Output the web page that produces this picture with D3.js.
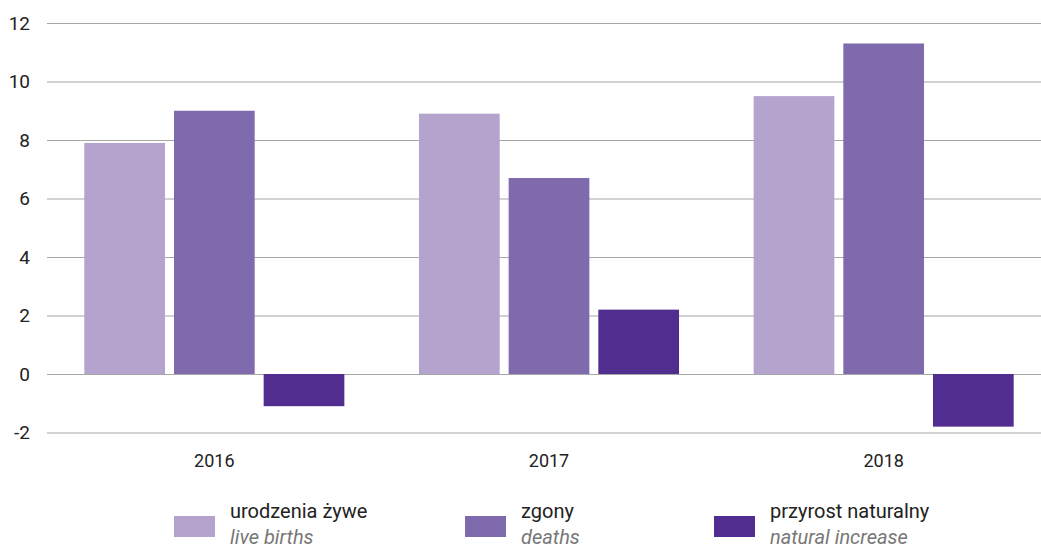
<!DOCTYPE html>
<html>
<head>
<meta charset="utf-8">
<script src="https://cdn.jsdelivr.net/npm/d3@7"></script>
<style>
  body { margin: 0; background: #fff; }
  text { font-family: "Roboto", sans-serif; fill: #222; }
</style>
</head>
<body>
<script>
const years = ['2016', '2017', '2018'];
const seriesKeys = ['births', 'deaths', 'increase'];
const seriesPl = ['urodzenia żywe', 'zgony', 'przyrost naturalny'];
const seriesEn = ['live births', 'deaths', 'natural increase'];
const births = [7.9, 8.9, 9.5];
const deaths = [9.0, 6.7, 11.3];
const increase = [-1.1, 2.2, -1.8];
const yTicks = [-2, 0, 2, 4, 6, 8, 10, 12];
const colors = ['#b3a3cd', '#7f6aae', '#512d8f'];

const width = 1041, height = 550;

const svg = d3.select('body').append('svg')
    .attr('width', width)
    .attr('height', height);

const data = years.map((y, i) => ({
    year: y,
    births: births[i],
    deaths: deaths[i],
    increase: increase[i]
}));

const y = d3.scaleLinear().domain([-2, 12]).range([432.5, 23]);

const x0 = d3.scaleBand().domain(years).range([47, 1051])
    .paddingInner(0.223).paddingOuter(0.1115);

const x1 = d3.scaleBand().domain(seriesKeys).range([0, x0.bandwidth()])
    .paddingInner(0.1).paddingOuter(0);

const color = d3.scaleOrdinal().domain(seriesKeys).range(colors);

// gridlines + labels
const yAxis = svg.append('g')
    .attr('transform', 'translate(47,0)')
    .call(d3.axisLeft(y).tickValues(yTicks).tickSize(-(width - 47)).tickFormat(d => String(d)));
yAxis.select('.domain').remove();
yAxis.selectAll('.tick line').attr('stroke', '#a6a6a6').attr('stroke-width', 1.2);
yAxis.selectAll('.tick text')
    .attr('x', -17)
    .attr('font-size', 19)
    .style('fill', '#222');

// bars
const groups = svg.append('g').selectAll('g')
    .data(data)
    .join('g')
    .attr('transform', d => `translate(${x0(d.year)},0)`);

groups.selectAll('rect')
    .data(d => seriesKeys.map(k => ({ key: k, value: d[k] })))
    .join('rect')
    .attr('x', d => x1(d.key))
    .attr('width', x1.bandwidth())
    .attr('y', d => y(Math.max(0, d.value)))
    .attr('height', d => Math.abs(y(d.value) - y(0)))
    .attr('fill', d => color(d.key));

// year labels
const xAxis = svg.append('g')
    .attr('transform', 'translate(0,448)')
    .call(d3.axisBottom(x0).tickSize(0));
xAxis.select('.domain').remove();
xAxis.selectAll('.tick text')
    .attr('dy', '0.71em')
    .attr('y', 6)
    .attr('font-size', 18)
    .style('fill', '#222');

// legend
const legendX = [174, 465, 714];
const legend = svg.append('g').selectAll('g')
    .data(seriesKeys)
    .join('g')
    .attr('transform', (d, i) => `translate(${legendX[i]},0)`);

legend.append('rect')
    .attr('x', 0).attr('y', 516)
    .attr('width', 41).attr('height', 21)
    .attr('fill', d => color(d));

legend.append('text')
    .attr('x', 56).attr('y', 518)
    .attr('font-size', 20)
    .style('fill', '#222')
    .text((d, i) => seriesPl[i]);

legend.append('text')
    .attr('x', 56).attr('y', 544)
    .attr('font-size', 20)
    .attr('font-style', 'italic')
    .style('fill', '#777')
    .text((d, i) => seriesEn[i]);
</script>
</body>
</html>
